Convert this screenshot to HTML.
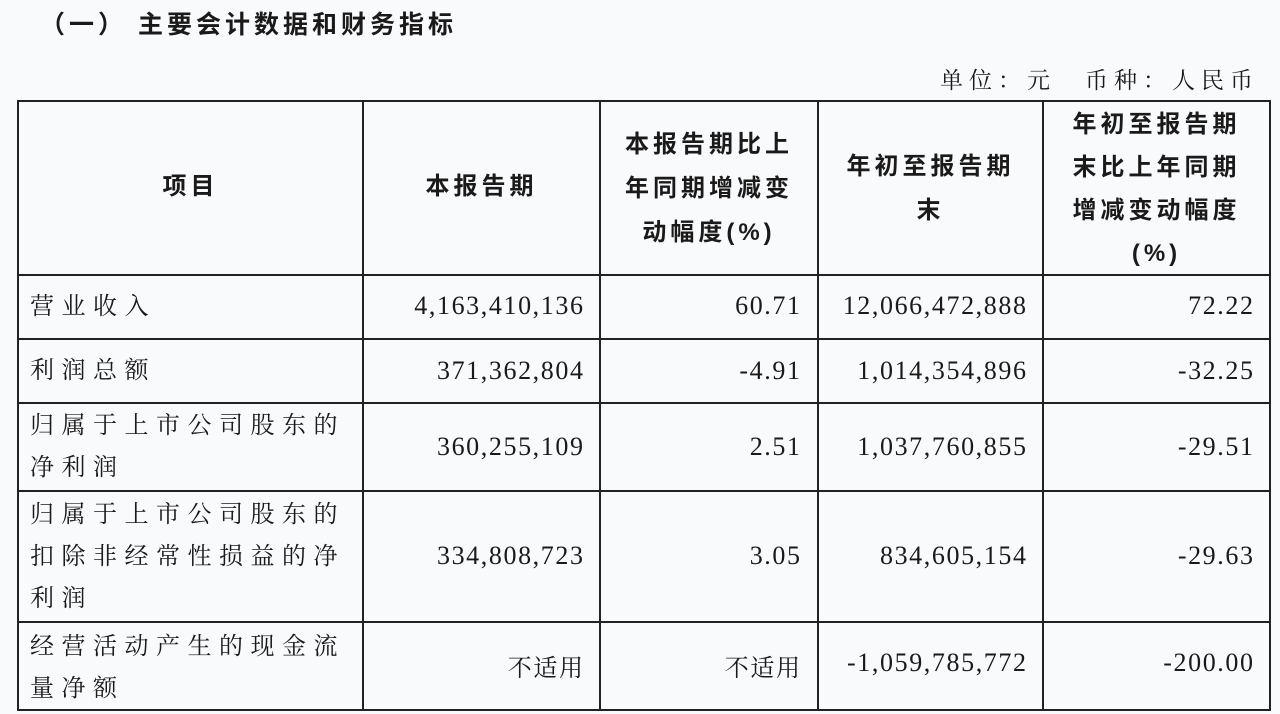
<!DOCTYPE html>
<html><head><meta charset="utf-8"><style>
body{margin:0;width:1280px;height:714px;background:#f9fafc;position:relative;overflow:hidden;font-family:"Liberation Serif","Noto Serif CJK SC",serif;color:#1a1a1a}
.t{position:absolute;white-space:nowrap}
.h{font-family:"Liberation Sans","Noto Sans CJK SC",sans-serif;font-weight:bold;font-size:24px;text-align:center;line-height:44px;letter-spacing:4px}
.n{font-size:26px;text-align:right;letter-spacing:1.6px;margin-right:-1.6px}
.c{font-size:24px;letter-spacing:7.5px;line-height:42px}
.vl{position:absolute;top:101px;height:609px;width:2px;background:#222}
.hl{position:absolute;left:17px;width:1254px;height:2px;background:#222}
</style></head><body>
<div class="t" style="left:40px;top:5px;font-family:'Liberation Sans','Noto Sans CJK SC',sans-serif;font-weight:bold;font-size:25px;letter-spacing:4px">（一） 主要会计数据和财务指标</div>
<div class="t" style="left:940px;top:62px;font-size:23px;letter-spacing:6px">单位：元　币种：人民币</div>
<div class="vl" style="left:17px"></div><div class="vl" style="left:362px"></div><div class="vl" style="left:599px"></div><div class="vl" style="left:817px"></div><div class="vl" style="left:1042px"></div><div class="vl" style="left:1269px"></div>
<div class="hl" style="top:100px"></div><div class="hl" style="top:274px"></div><div class="hl" style="top:338px"></div><div class="hl" style="top:402px"></div><div class="hl" style="top:490px"></div><div class="hl" style="top:621px"></div><div class="hl" style="top:709px"></div>
<div class="t h" style="left:19px;width:343px;top:165px">项目</div>
<div class="t h" style="left:364px;width:235px;top:165px">本报告期</div>
<div class="t h" style="left:601px;width:216px;top:123px">本报告期比上<br>年同期增减变<br>动幅度(%)</div>
<div class="t h" style="left:819px;width:223px;top:145px">年初至报告期<br>末</div>
<div class="t h" style="left:1044px;width:225px;top:103px;line-height:43px">年初至报告期<br>末比上年同期<br>增减变动幅度<br>(%)</div>
<div class="t c" style="left:30px;top:286px">营业收入</div>
<div class="t c" style="left:30px;top:350px">利润总额</div>
<div class="t c" style="left:30px;top:405px">归属于上市公司股东的<br>净利润</div>
<div class="t c" style="left:30px;top:494px">归属于上市公司股东的<br>扣除非经常性损益的净<br>利润</div>
<div class="t c" style="left:30px;top:626px">经营活动产生的现金流<br>量净额</div>
<div class="t n" style="right:697px;top:291px">4,163,410,136</div>
<div class="t n" style="right:697px;top:356px">371,362,804</div>
<div class="t n" style="right:697px;top:432px">360,255,109</div>
<div class="t n" style="right:697px;top:541px">334,808,723</div>
<div class="t n" style="right:697px;top:648px;font-size:24px">不适用</div>
<div class="t n" style="right:480px;top:291px">60.71</div>
<div class="t n" style="right:480px;top:356px">-4.91</div>
<div class="t n" style="right:480px;top:432px">2.51</div>
<div class="t n" style="right:480px;top:541px">3.05</div>
<div class="t n" style="right:480px;top:648px;font-size:24px">不适用</div>
<div class="t n" style="right:254px;top:291px">12,066,472,888</div>
<div class="t n" style="right:254px;top:356px">1,014,354,896</div>
<div class="t n" style="right:254px;top:432px">1,037,760,855</div>
<div class="t n" style="right:254px;top:541px">834,605,154</div>
<div class="t n" style="right:254px;top:648px">-1,059,785,772</div>
<div class="t n" style="right:27px;top:291px">72.22</div>
<div class="t n" style="right:27px;top:356px">-32.25</div>
<div class="t n" style="right:27px;top:432px">-29.51</div>
<div class="t n" style="right:27px;top:541px">-29.63</div>
<div class="t n" style="right:27px;top:648px">-200.00</div>
</body></html>
